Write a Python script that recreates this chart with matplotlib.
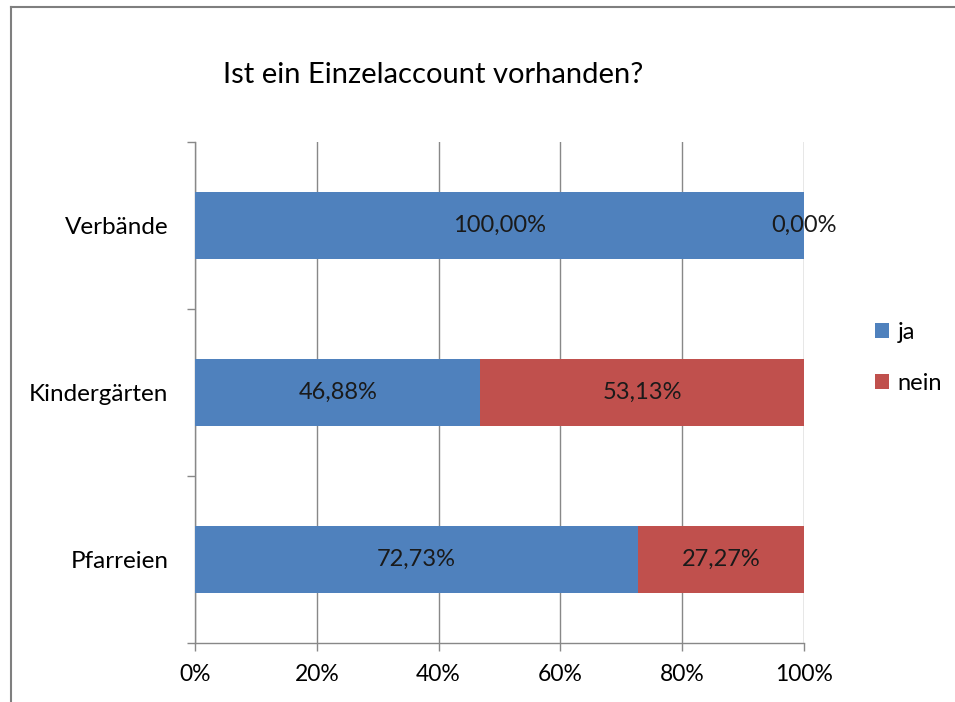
import matplotlib.pyplot as plt
from matplotlib.lines import Line2D

plt.rcParams['font.family'] = ['Lato', 'DejaVu Sans']

# Data
categories = ['Pfarreien', 'Kindergärten', 'Verbände']
ja = [72.73, 46.88, 100.00]
nein = [27.27, 53.13, 0.00]
x_ticks = [0, 20, 40, 60, 80, 100]

blue = '#4F81BD'
red = '#C0504D'
grid_col = '#888888'

fig = plt.figure(figsize=(9.55, 7.02), dpi=100)
ax = fig.add_axes([195 / 955, 1 - 643 / 702, 609 / 955, 501 / 702])

y = list(range(len(categories)))
ax.barh(y, ja, height=0.4, color=blue, label='ja', zorder=3)
ax.barh(y, nein, height=0.4, left=ja, color=red, label='nein', zorder=3)

# data labels
for i in y:
    ax.text(ja[i] / 2, i, f'{ja[i]:.2f}%'.replace('.', ','),
            ha='center', va='center', fontsize=17, color='#1a1a1a', zorder=4)
    ax.text(ja[i] + nein[i] / 2, i, f'{nein[i]:.2f}%'.replace('.', ','),
            ha='center', va='center', fontsize=17, color='#1a1a1a', zorder=4)

ax.set_xlim(0, 100)
ax.set_ylim(-0.5, len(categories) - 0.5)

ax.set_xticks(x_ticks)
ax.set_xticklabels([f'{t}%' for t in x_ticks])
ax.xaxis.grid(True, color=grid_col, linewidth=1.0, zorder=0)

# category axis: ticks at boundaries, labels at centres
ax.set_yticks([i - 0.5 for i in range(len(categories) + 1)])
ax.set_yticklabels([])
ax.set_yticks(y, minor=True)
ax.set_yticklabels(categories, minor=True)
ax.tick_params(axis='y', which='minor', length=0, pad=19, labelsize=17.5)
ax.tick_params(axis='y', which='major', length=6, width=1, color=grid_col)
ax.tick_params(axis='x', length=6, width=1, color=grid_col, pad=9, labelsize=16.5)

for s in ['top', 'right']:
    ax.spines[s].set_visible(False)
for s in ['left', 'bottom']:
    ax.spines[s].set_color(grid_col)
    ax.spines[s].set_linewidth(1.0)

fig.text(433 / 955, 1 - 75 / 702, 'Ist ein Einzelaccount vorhanden?',
         ha='center', va='center', fontsize=21)

handles, labels = ax.get_legend_handles_labels()
fig.legend(handles, labels, loc='center left', bbox_to_anchor=(875 / 955, 1 - 358 / 702),
           frameon=False, fontsize=17, handlelength=0.6, handleheight=0.6,
           handletextpad=0.35, labelspacing=1.25, borderpad=0, borderaxespad=0)

# outer chart frame (left and top visible)
fig.add_artist(Line2D([11 / 955, 11 / 955], [0, 1 - 7 / 702], transform=fig.transFigure,
                      color='#7f7f7f', linewidth=1.5))
fig.add_artist(Line2D([11 / 955, 1], [1 - 7 / 702, 1 - 7 / 702], transform=fig.transFigure,
                      color='#7f7f7f', linewidth=1.5))

fig.savefig('out.png', dpi=100)
